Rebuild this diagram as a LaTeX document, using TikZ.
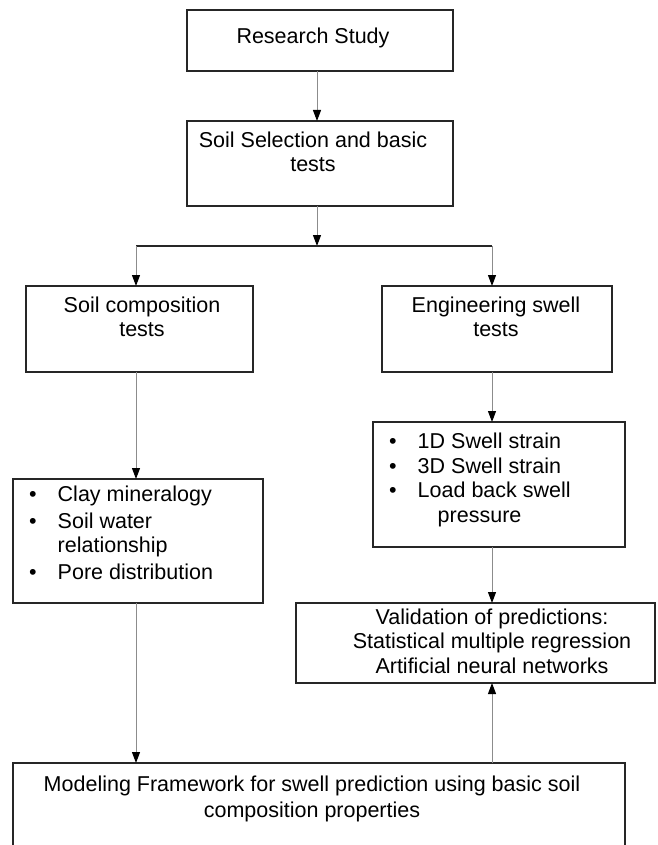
\documentclass[tikz,border=0pt]{standalone}
\usepackage{fontspec}
\setmainfont{Liberation Sans}
\usetikzlibrary{arrows.meta}

\tikzset{
  box/.style={draw=black!85, line width=1.3pt, inner sep=0pt, outer sep=0pt},
  txt/.style={inner sep=0pt, align=center, font=\fontsize{21.5}{24.5}\selectfont},
  link/.style={draw=black!45, line width=1pt, -{Triangle[width=8pt, length=11pt, color=black]}},
}

\begin{document}
\begin{tikzpicture}[x=1pt, y=-1pt]
    \useasboundingbox (0,0) rectangle (657,845);

    % Top of the tree
    \node[box, minimum width=266pt, minimum height=61pt] (study) at (320,40.5) {};
    \node[txt] (studytxt) at (313,38) {Research Study};
    \node[box, minimum width=266pt, minimum height=85pt] (select) at (320,163.5) {};
    \node[txt] (selecttxt) at (313,152) {Soil Selection and basic\\tests};

    % Split point
    \coordinate (split) at (317,246);
    \coordinate (lsplit) at (136,246);
    \coordinate (rsplit) at (492,246);

    % Left branch
    \node[box, minimum width=227pt, minimum height=86pt] (comp) at (139.5,329) {};
    \node[txt] (comptxt) at (142,317) {Soil composition\\tests};
    \node[box, minimum width=250pt, minimum height=124pt] (complist) at (138,541) {};
    \node[txt, anchor=base west] (complisttxt) at (29,501) {%
        \begin{tabular}[t]{@{}l@{\hspace{21pt}}l@{}}
        \textbullet & Clay mineralogy\\[2.5pt]
        \textbullet & Soil water\\
                    & relationship\\[2.5pt]
        \textbullet & Pore distribution
        \end{tabular}};

    % Right branch
    \node[box, minimum width=230pt, minimum height=86pt] (eng) at (497,329) {};
    \node[txt] (engtxt) at (496,317) {Engineering swell\\tests};
    \node[box, minimum width=252pt, minimum height=125pt] (englist) at (499,484.5) {};
    \node[txt, anchor=base west] (englisttxt) at (389,448.5) {%
        \begin{tabular}[t]{@{}l@{\hspace{21pt}}l@{}}
        \textbullet & 1D Swell strain\\
        \textbullet & 3D Swell strain\\
        \textbullet & Load back swell\\
                    & \hspace{20pt}pressure
        \end{tabular}};
    \node[box, minimum width=359pt, minimum height=80pt] (valid) at (475.5,643) {};
    \node[txt] (validtxt) at (492,641) {Validation of predictions:\\Statistical multiple regression\\Artificial neural networks};

    % Bottom box
    \node[box, minimum width=612pt, minimum height=107pt] (model) at (319,816.5) {};
    \node[txt, font=\fontsize{21.5}{26}\selectfont] (modeltxt) at (312,799) {Modeling Framework for swell prediction using basic soil\\composition properties};

    % Connectors
    \draw[link] (study.south -| split) -- (select.north -| split);
    \draw[link] (select.south -| split) -- (split);
    \draw[line width=1.2pt, black!85] (lsplit) -- (rsplit);
    \draw[link] (lsplit) -- (lsplit |- comp.north);
    \draw[link] (rsplit) -- (rsplit |- eng.north);
    \draw[link] (comp.south -| lsplit) -- (complist.north -| lsplit);
    \draw[link] (eng.south -| rsplit) -- (englist.north -| rsplit);
    \draw[link] (englist.south -| rsplit) -- (valid.north -| rsplit);
    \draw[link] (complist.south -| lsplit) -- (model.north -| lsplit);
    \draw[link] (model.north -| rsplit) -- (valid.south -| rsplit);
\end{tikzpicture}
\end{document}
